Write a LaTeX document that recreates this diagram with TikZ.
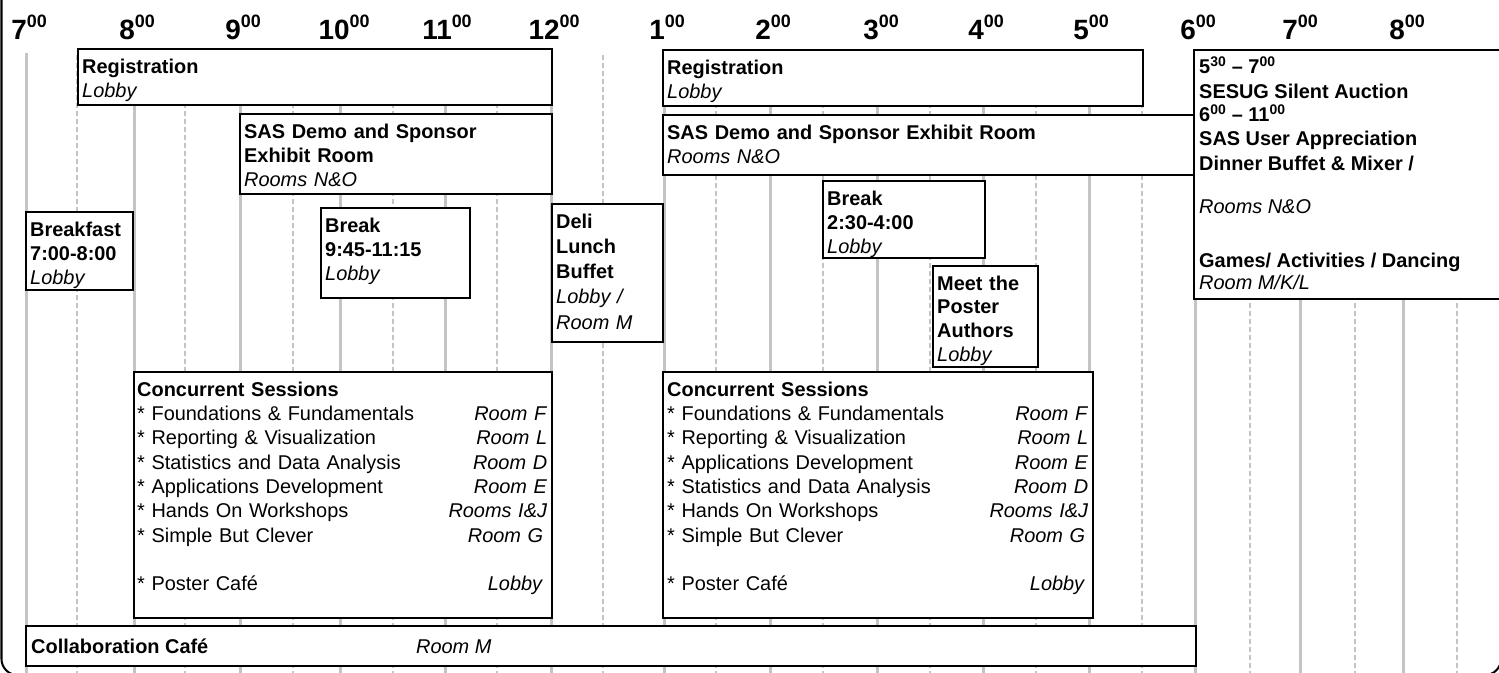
\documentclass[tikz,border=0pt]{standalone}
\usepackage{fontspec}
\setmainfont{Liberation Sans}
\definecolor{gridgray}{RGB}{196,196,196}
\newcommand\fl{\rule{0pt}{17bp}}
\newcommand\hr[1]{#1\raisebox{12bp}{\fontsize{18}{18}\selectfont 00}}
\newcommand\crow[3]{\makebox[#1][l]{#2\hfill\textit{#3}}}
\begin{document}
\begin{tikzpicture}[x=1bp,y=-1bp,
  hourline/.style={draw=gridgray, line width=3bp},
  halfline/.style={draw=gridgray, line width=2.5bp, dash pattern=on 5bp off 3bp},
  box/.style={draw=black, line width=2bp, fill=white, inner sep=0pt, outer sep=0pt, anchor=north west},
  txt/.style={anchor=north west, inner sep=0pt, align=left, font=\fontsize{20}{24.4}\selectfont},
  one/.style={anchor=base west, inner sep=0pt, font=\fontsize{20}{24.4}\selectfont},
  hourlbl/.style={anchor=base, inner sep=0pt, font=\bfseries\fontsize{28}{28}\selectfont}]
\useasboundingbox (0,0) rectangle (1499,673);
\clip (0,0) rectangle (1499,673);
\fill[white] (0,0) rectangle (1499,673);
% frame
\draw[line width=2bp, rounded corners=16bp] (1.5,-5) |- (1501,675) -- (1501,-5);
% grid
\foreach \x in {77,185,293,393,497,603,716,823,930,1036,1142,1250,1355,1457}
  \draw[halfline] (\x,55) -- (\x,680);
\foreach \x in {26,134,240,340,445,551,664,770,877,983,1089,1195,1300,1403}
  \draw[hourline] (\x,53) -- (\x,680);
% hour labels
\node[hourlbl] (h07) at (29,40) {\hr{7}};
\node[hourlbl] (h08) at (137,40) {\hr{8}};
\node[hourlbl] (h09) at (243,40) {\hr{9}};
\node[hourlbl] (h10) at (344,40) {\hr{10}};
\node[hourlbl] (h11) at (447,40) {\hr{11}};
\node[hourlbl] (h12) at (554,40) {\hr{12}};
\node[hourlbl] (h13) at (667,40) {\hr{1}};
\node[hourlbl] (h14) at (773,40) {\hr{2}};
\node[hourlbl] (h15) at (881,40) {\hr{3}};
\node[hourlbl] (h16) at (986,40) {\hr{4}};
\node[hourlbl] (h17) at (1091,40) {\hr{5}};
\node[hourlbl] (h18) at (1198,40) {\hr{6}};
\node[hourlbl] (h19) at (1300,40) {\hr{7}};
\node[hourlbl] (h20) at (1407,40) {\hr{8}};
% boxes
\node[box, minimum width=474bp, minimum height=56bp] (reg1) at (78,49) {};
\node[box, minimum width=480bp, minimum height=56bp] (reg2) at (663,50) {};
\node[box, minimum width=312bp, minimum height=80bp] (sas1) at (240,114) {};
\node[box, minimum width=531bp, minimum height=60bp] (sas2) at (663,115) {};
\node[box, minimum width=320bp, minimum height=249bp] (eve) at (1194,50) {};
\node[box, minimum width=107bp, minimum height=78bp] (bf) at (26,212) {};
\node[box, minimum width=149bp, minimum height=90bp] (brk1) at (321,208) {};
\node[box, minimum width=111bp, minimum height=138bp] (deli) at (552,204) {};
\node[box, minimum width=162bp, minimum height=77bp] (brk2) at (823,181) {};
\node[box, minimum width=105bp, minimum height=101bp] (meet) at (933,266) {};
\node[box, minimum width=418bp, minimum height=246bp] (cs1) at (134,372) {};
\node[box, minimum width=430bp, minimum height=246bp] (cs2) at (663,372) {};
\node[box, minimum width=1170bp, minimum height=40bp] (collab) at (26,626) {};
% texts
\node[txt, text width=460bp] (reg1t) at (82,56) {\fl\textbf{Registration}\\\textit{Lobby}};
\node[txt, text width=470bp] (reg2t) at (667,57) {\fl\textbf{Registration}\\\textit{Lobby}};
\node[txt, text width=304bp] (sas1t) at (244,121) {\fl\textbf{SAS Demo and Sponsor}\\\textbf{Exhibit Room}\\\textit{Rooms N\&O}};
\node[txt, text width=520bp] (sas2t) at (667,122) {\fl\textbf{SAS Demo and Sponsor Exhibit Room}\\\textit{Rooms N\&O}};
\node[txt, text width=100bp] (bft) at (30,219) {\fl\textbf{Breakfast}\\\textbf{7:00-8:00}\\\textit{Lobby}};
\node[txt, text width=140bp] (brk1t) at (325,215) {\fl\textbf{Break}\\\textbf{9:45-11:15}\\\textit{Lobby}};
\node[txt, text width=104bp, font=\fontsize{20}{25.3}\selectfont] (delit) at (556,211) {\fl\textbf{Deli}\\\textbf{Lunch}\\\textbf{Buffet}\\\textit{Lobby /}\\\textit{Room M}};
\node[txt, text width=154bp, font=\fontsize{20}{24}\selectfont] (brk2t) at (827,188) {\fl\textbf{Break}\\\textbf{2:30-4:00}\\\textit{Lobby}};
\node[txt, text width=98bp, font=\fontsize{20}{23.8}\selectfont] (meett) at (937,273) {\fl\textbf{Meet the}\\\textbf{Poster}\\\textbf{Authors}\\\textit{Lobby}};
\node[txt, text width=414bp] (cs1t) at (137,379) {\fl\textbf{Concurrent Sessions}\\
\crow{410bp}{* Foundations \& Fundamentals}{Room F}\\
\crow{410bp}{* Reporting \& Visualization}{Room L}\\
\crow{410bp}{* Statistics and Data Analysis}{Room D}\\
\crow{410bp}{* Applications Development}{Room E}\\
\crow{410bp}{* Hands On Workshops}{Rooms I\&J}\\
\crow{406bp}{* Simple But Clever}{Room G}\\[24.4bp]
\crow{406bp}{* Poster Café}{Lobby}};
\node[txt, text width=424bp] (cs2t) at (667,379) {\fl\textbf{Concurrent Sessions}\\
\crow{421bp}{* Foundations \& Fundamentals}{Room F}\\
\crow{421bp}{* Reporting \& Visualization}{Room L}\\
\crow{421bp}{* Applications Development}{Room E}\\
\crow{421bp}{* Statistics and Data Analysis}{Room D}\\
\crow{421bp}{* Hands On Workshops}{Rooms I\&J}\\
\crow{418bp}{* Simple But Clever}{Room G}\\[24.4bp]
\crow{418bp}{* Poster Café}{Lobby}};
% evening box
\node[one] (ev1) at (1199,74) {\textbf{5\textsuperscript{30} – 7\textsuperscript{00}}};
\node[one] (ev2) at (1199,98.5) {\textbf{SESUG Silent Auction}};
\node[one] (ev3) at (1199,122) {\textbf{6\textsuperscript{00} – 11\textsuperscript{00}}};
\node[one] (ev4) at (1199,146) {\textbf{SAS User Appreciation}};
\node[one] (ev5) at (1199,170) {\textbf{Dinner Buffet \& Mixer /}};
\node[one] (ev6) at (1199,213) {\textit{Rooms N\&O}};
\node[one] (ev7) at (1199,267) {\textbf{Games/ Activities / Dancing}};
\node[one] (ev8) at (1199,289) {\textit{Room M/K/L}};
% collaboration
\node[one] (colt) at (31,653) {\textbf{Collaboration Café}};
\node[one] (colr) at (416,653) {\textit{Room M}};
\end{tikzpicture}
\end{document}
